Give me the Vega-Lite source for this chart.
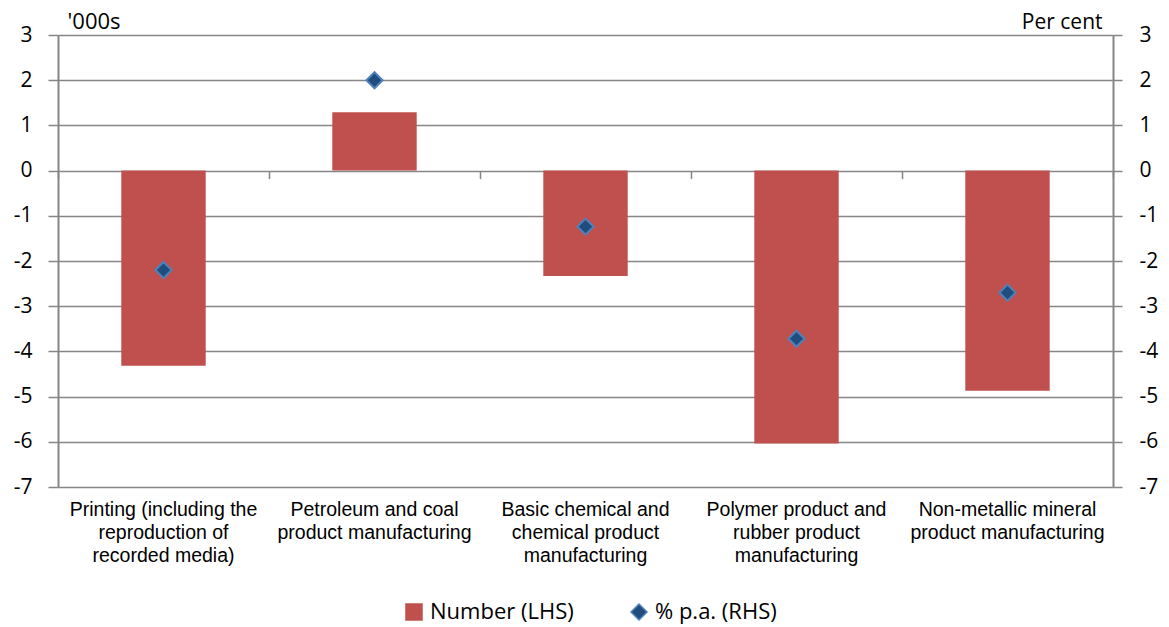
{
  "$schema": "https://vega.github.io/schema/vega-lite/v6.json",
  "autosize": "none",
  "padding": {"left": 58, "top": 35, "right": 56, "bottom": 140},
  "width": 1055,
  "height": 452,
  "background": "white",
  "config": {"view": {"stroke": null}},
  "data": {
    "values": [
      {"industry": "Printing (including the reproduction of recorded media)", "number": -4.32, "pct": -2.2},
      {"industry": "Petroleum and coal product manufacturing", "number": 1.29, "pct": 2.0},
      {"industry": "Basic chemical and chemical product manufacturing", "number": -2.33, "pct": -1.24},
      {"industry": "Polymer product and rubber product manufacturing", "number": -6.04, "pct": -3.72},
      {"industry": "Non-metallic mineral product manufacturing", "number": -4.87, "pct": -2.7}
    ]
  },
  "layer": [
    {
      "mark": {"type": "bar", "width": {"band": 0.4}},
      "encoding": {
        "x": {
          "field": "industry", "type": "nominal", "sort": null,
          "scale": {"paddingInner": 0, "paddingOuter": 0},
          "axis": {
            "orient": "bottom", "title": null, "domain": false, "ticks": false, "grid": false,
            "labelAngle": 0, "labelFont": "Liberation Sans", "labelFontSize": 19.5, "labelColor": "#000000",
            "labelPadding": 13, "labelBaseline": "top", "labelLineHeight": 23, "labelLimit": 300,
            "labelExpr": "datum.label == 'Printing (including the reproduction of recorded media)' ? ['Printing (including the', 'reproduction of', 'recorded media)'] : datum.label == 'Petroleum and coal product manufacturing' ? ['Petroleum and coal', 'product manufacturing'] : datum.label == 'Basic chemical and chemical product manufacturing' ? ['Basic chemical and', 'chemical product', 'manufacturing'] : datum.label == 'Polymer product and rubber product manufacturing' ? ['Polymer product and', 'rubber product', 'manufacturing'] : ['Non-metallic mineral', 'product manufacturing']"
          }
        },
        "y": {
          "field": "number", "type": "quantitative",
          "scale": {"domain": [-7, 3], "nice": false, "zero": false},
          "axis": {
            "orient": "left", "values": [-7, -6, -5, -4, -3, -2, -1, 0, 1, 2, 3],
            "labelExpr": "'' + datum.value",
            "title": "'000s", "titleAngle": 0, "titleAlign": "left", "titleBaseline": "alphabetic",
            "titleX": 9, "titleY": -7, "titleFont": "Open Sans", "titleFontSize": 22, "titleFontWeight": "normal", "titleColor": "#000000",
            "labelFont": "Open Sans", "labelFontSize": 21, "labelColor": "#000000", "labelPadding": 16,
            "tickSize": 10, "tickColor": "#868686", "tickWidth": 1.5,
            "domainColor": "#868686", "domainWidth": 2,
            "grid": true, "gridColor": "#868686", "gridWidth": 1.5
          }
        },
        "color": {
          "datum": "Number (LHS)",
          "scale": {"domain": ["Number (LHS)", "% p.a. (RHS)"], "range": ["#C0504D", "#1F4E7E"]},
          "legend": {
            "title": null, "orient": "none", "direction": "horizontal",
            "legendX": 345, "legendY": 566,
            "labelFont": "Open Sans", "labelFontSize": 22, "labelColor": "#000000",
            "symbolSize": 256, "symbolStrokeWidth": 0, "labelOffset": 5, "columnPadding": 54,
            "labelLimit": 300,
            "encode": {
              "symbols": {
                "update": {
                  "shape": {"signal": "datum.value == '% p.a. (RHS)' ? 'diamond' : 'square'"},
                  "stroke": {"signal": "datum.value == '% p.a. (RHS)' ? '#4F81BD' : '#C0504D'"},
                  "strokeWidth": {"value": 1.5}
                }
              }
            }
          }
        }
      }
    },
    {
      "mark": {"type": "point", "shape": "diamond", "filled": true, "size": 260, "stroke": "#4F81BD", "strokeWidth": 2, "opacity": 1},
      "encoding": {
        "x": {
          "field": "industry", "type": "nominal", "sort": null,
          "axis": {
            "orient": "top", "title": null, "labels": false, "domain": false, "grid": false,
            "ticks": true, "tickBand": "extent", "tickSize": -8, "tickColor": "#868686", "tickWidth": 1.5,
            "offset": -135.6
          }
        },
        "y": {
          "field": "pct", "type": "quantitative",
          "scale": {"domain": [-7, 3], "nice": false, "zero": false},
          "axis": {
            "orient": "right", "values": [-7, -6, -5, -4, -3, -2, -1, 0, 1, 2, 3],
            "labelExpr": "'' + datum.value",
            "title": "Per cent", "titleAngle": 0, "titleAlign": "right", "titleBaseline": "alphabetic",
            "titleX": -11, "titleY": -7, "titleFont": "Open Sans", "titleFontSize": 21, "titleFontWeight": "normal", "titleColor": "#000000",
            "labelFont": "Open Sans", "labelFontSize": 21, "labelColor": "#000000", "labelPadding": 17, "labelAlign": "left",
            "tickSize": 9, "tickColor": "#868686", "tickWidth": 1.5,
            "domainColor": "#868686", "domainWidth": 2,
            "grid": false
          }
        },
        "color": {"datum": "% p.a. (RHS)"}
      }
    }
  ],
  "resolve": {"scale": {"y": "independent"}, "axis": {"x": "independent"}}
}
